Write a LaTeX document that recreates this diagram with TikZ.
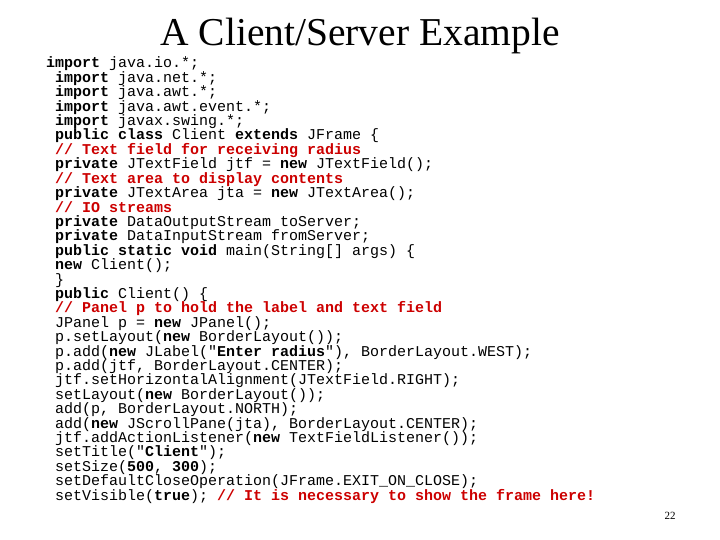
\documentclass[tikz,border=0pt]{standalone}
\usepackage{fontspec}
\setmainfont{Liberation Serif}
\setmonofont{Liberation Mono}
\definecolor{cmt}{RGB}{204,0,0}
\newcommand{\kw}[1]{\textbf{#1}}
\newcommand{\cm}[1]{\textcolor{cmt}{\textbf{#1}}}
\begin{document}
\begin{tikzpicture}[x=1pt,y=-1pt,
  code/.style={anchor=base west,inner sep=0pt,font=\fontsize{15}{14.4}\ttfamily}]
\useasboundingbox (0,0) rectangle (720,540);
\node[anchor=base,inner sep=0pt,font=\fontsize{39.5}{42}\selectfont] (title) at (360,46) {A Client/Server Example};
\foreach \t [count=\i] in {
 {\kw{import} java.io.*;},
 {\kw{import} java.net.*;},
 {\kw{import} java.awt.*;},
 {\kw{import} java.awt.event.*;},
 {\kw{import} javax.swing.*;},
 {\kw{public class} Client \kw{extends} JFrame \{},
 {\cm{// Text field for receiving radius}},
 {\kw{private} JTextField jtf = \kw{new} JTextField();},
 {\cm{// Text area to display contents}},
 {\kw{private} JTextArea jta = \kw{new} JTextArea();},
 {\cm{// IO streams}},
 {\kw{private} DataOutputStream toServer;},
 {\kw{private} DataInputStream fromServer;},
 {\kw{public static void} main(String[] args) \{},
 {\kw{new} Client();},
 {\}},
 {\kw{public} Client() \{},
 {\cm{// Panel p to hold the label and text field}},
 {JPanel p = \kw{new} JPanel();},
 {p.setLayout(\kw{new} BorderLayout());},
 {p.add(\kw{new} JLabel("\kw{Enter radius}"), BorderLayout.WEST);},
 {p.add(jtf, BorderLayout.CENTER);},
 {jtf.setHorizontalAlignment(JTextField.RIGHT);},
 {setLayout(\kw{new} BorderLayout());},
 {add(p, BorderLayout.NORTH);},
 {add(\kw{new} JScrollPane(jta), BorderLayout.CENTER);},
 {jtf.addActionListener(\kw{new} TextFieldListener());},
 {setTitle("\kw{Client}");},
 {setSize(\kw{500}, \kw{300});},
 {setDefaultCloseOperation(JFrame.EXIT\_ON\_CLOSE);},
 {setVisible(\kw{true}); \cm{// It is necessary to show the frame here!}}}
 {\pgfmathsetmacro{\xx}{\i==1 ? 46 : 55}
  \node[code] (l\i) at (\xx,{68+(\i-1)*14.4}) {\t};}
\node[anchor=base,inner sep=0pt,font=\fontsize{11}{12}\selectfont] (pg) at (670,519) {22};
\end{tikzpicture}
\end{document}
